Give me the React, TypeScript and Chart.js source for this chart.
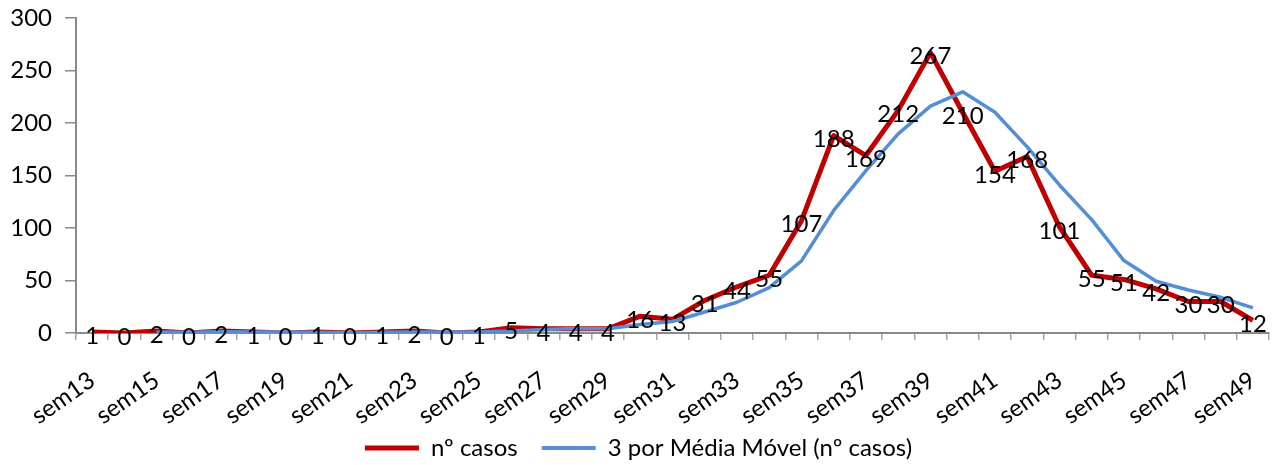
import React, { useEffect, useRef } from 'react';
import { Chart, registerables } from 'chart.js';

Chart.register(...registerables);

const weeks = [
  'sem13', 'sem14', 'sem15', 'sem16', 'sem17', 'sem18', 'sem19', 'sem20', 'sem21', 'sem22',
  'sem23', 'sem24', 'sem25', 'sem26', 'sem27', 'sem28', 'sem29', 'sem30', 'sem31', 'sem32',
  'sem33', 'sem34', 'sem35', 'sem36', 'sem37', 'sem38', 'sem39', 'sem40', 'sem41', 'sem42',
  'sem43', 'sem44', 'sem45', 'sem46', 'sem47', 'sem48', 'sem49',
];

const casos = [
  1, 0, 2, 0, 2, 1, 0, 1, 0, 1,
  2, 0, 1, 5, 4, 4, 4, 16, 13, 31,
  44, 55, 107, 188, 169, 212, 267, 210, 154, 168,
  101, 55, 51, 42, 30, 30, 12,
];

const mediaMovel = [
  null, null, 1, 0.7, 1.3, 1, 1, 0.7, 0.3, 0.7,
  1, 1, 1, 2, 3.3, 4.3, 4, 8, 11, 20,
  29.3, 43.3, 68.7, 116.7, 154.7, 189.7, 216, 229.7, 210.3, 177.3,
  141, 108, 69, 49.3, 41, 34, 24,
];

const seriesNames = ['nº casos', '3 por Média Móvel (nº casos)'];
const yMin = 0;
const yMax = 300;
const yStep = 50;

const FONT = 'Lato';
const FONT_SIZE = 24;
const AXIS_COLOR = '#898989';
const RED = '#C00000';
const BLUE = '#558ED5';

const valueLabels = {
  id: 'valueLabels',
  afterDatasetsDraw(chart: any) {
    const ctx = chart.ctx;
    const meta = chart.getDatasetMeta(0);
    ctx.save();
    ctx.font = `${FONT_SIZE}px ${FONT}`;
    ctx.fillStyle = '#000000';
    ctx.textAlign = 'center';
    ctx.textBaseline = 'middle';
    meta.data.forEach((pt: any, i: number) => {
      ctx.fillText(String(casos[i]), pt.x, pt.y + 4);
    });
    ctx.restore();
  },
};

// let the rotated category labels extend below the axis box without being clipped
const unclipLabels = {
  id: 'unclipLabels',
  afterLayout(chart: any) {
    const x = chart.scales.x;
    if (x) x.bottom = chart.height;
  },
};

export default function App() {
  const ref = useRef<HTMLCanvasElement>(null);

  useEffect(() => {
    document.body.style.margin = '0';
    Chart.defaults.font.family = FONT;
    Chart.defaults.font.size = FONT_SIZE;
    Chart.defaults.color = '#000000';

    const chart = new Chart(ref.current as HTMLCanvasElement, {
      type: 'line',
      data: {
        labels: weeks,
        datasets: [
          {
            label: seriesNames[0],
            data: casos,
            borderColor: RED,
            backgroundColor: RED,
            borderWidth: 5,
            borderJoinStyle: 'round',
            pointRadius: 0,
            pointHoverRadius: 0,
            pointBorderWidth: 5,
            pointBorderColor: RED,
            tension: 0,
            order: 2,
          },
          {
            label: seriesNames[1],
            data: mediaMovel,
            borderColor: BLUE,
            backgroundColor: BLUE,
            borderWidth: 3.5,
            borderJoinStyle: 'round',
            pointRadius: 0,
            pointHoverRadius: 0,
            pointBorderWidth: 4,
            pointBorderColor: BLUE,
            tension: 0,
            spanGaps: false,
            order: 1,
          },
        ],
      },
      options: {
        responsive: false,
        animation: false,
        events: [],
        layout: { padding: { left: 8, right: 3, top: 18, bottom: -5 } },
        scales: {
          x: {
            type: 'category',
            offset: true,
            grid: {
              offset: true,
              drawOnChartArea: false,
              drawTicks: true,
              tickLength: 7,
              color: '#a6a6a6',
              lineWidth: 1.5,
            },
            border: { display: true, color: AXIS_COLOR, width: 2 },
            ticks: {
              autoSkip: false,
              maxRotation: 35,
              minRotation: 35,
              padding: 26,
              color: '#000000',
              font: { family: FONT, size: FONT_SIZE },
              callback: function (this: any, value: any, index: number) {
                return index % 2 === 0 ? this.getLabelForValue(value) : '';
              },
            },
            afterFit: (s: any) => {
              s.height = 79;
              s.paddingLeft = 0;
              s.paddingRight = 0;
            },
          },
          y: {
            min: yMin,
            max: yMax,
            grid: {
              drawOnChartArea: false,
              drawTicks: true,
              tickLength: 11,
              color: AXIS_COLOR,
              lineWidth: 1.5,
            },
            border: { display: true, color: AXIS_COLOR, width: 2 },
            ticks: {
              stepSize: yStep,
              padding: 13,
              color: '#000000',
              font: { family: FONT, size: FONT_SIZE },
            },
            afterFit: (s: any) => {
              s.width = 68;
              s.paddingTop = 0;
              s.paddingBottom = 0;
            },
          },
        },
        plugins: {
          legend: {
            display: true,
            position: 'bottom',
            labels: {
              usePointStyle: true,
              pointStyle: 'line',
              pointStyleWidth: 54,
              padding: 24,
              color: '#000000',
              font: { family: FONT, size: FONT_SIZE },
              sort: (a: any, b: any) => a.datasetIndex - b.datasetIndex,
            },
          },
          title: { display: false },
          tooltip: { enabled: false },
        },
      },
      plugins: [valueLabels, unclipLabels],
    } as any);

    return () => chart.destroy();
  }, []);

  return (
    <div style={{ width: 1272, height: 465 }}>
      <canvas ref={ref} width={1272} height={465} style={{ display: 'block' }} />
    </div>
  );
}
